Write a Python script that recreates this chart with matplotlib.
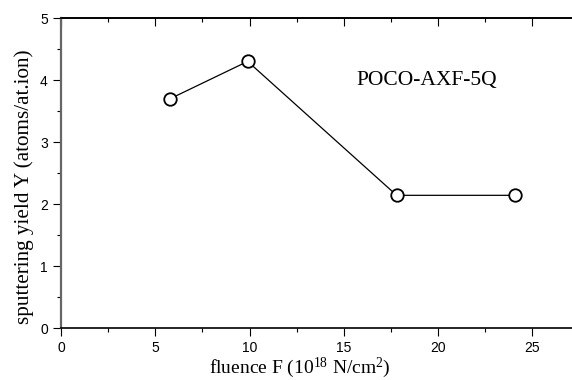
import matplotlib
matplotlib.use("Agg")
import matplotlib.pyplot as plt
from matplotlib.ticker import MultipleLocator

plt.rcParams["mathtext.fontset"] = "custom"
plt.rcParams["mathtext.rm"] = "Liberation Serif"
plt.rcParams["mathtext.it"] = "Liberation Serif:italic"

fluence = [5.8, 9.9, 17.8, 24.1]
yield_y = [3.7, 4.3, 2.14, 2.14]
x_ticks = [0, 5, 10, 15, 20, 25]
y_ticks = [0, 1, 2, 3, 4, 5]
label_text = "POCO-AXF-5Q"

fig = plt.figure(figsize=(5.72, 3.80), dpi=100)
ax = fig.add_axes([61 / 572, 52 / 380, 511 / 572, 310 / 380])

ax.plot(fluence, yield_y, color="black", lw=0.9, marker="o", ms=9,
        mfc="white", mec="black", mew=1.3, zorder=3, clip_on=False)

ax.set_xlim(0, 27.1)
ax.set_ylim(0, 5)
ax.set_xticks(x_ticks)
ax.set_yticks(y_ticks)
ax.xaxis.set_minor_locator(MultipleLocator(2.5))
ax.yaxis.set_minor_locator(MultipleLocator(0.5))
ax.tick_params(which="major", direction="out", length=5.5, width=0.8,
               labelsize=10, pad=4)
ax.tick_params(which="minor", direction="out", length=2.8, width=0.8)
for lab in ax.get_xticklabels() + ax.get_yticklabels():
    lab.set_family("Liberation Sans")

ax.spines["right"].set_visible(False)
ax.spines["left"].set_color("#666666")
ax.spines["left"].set_linewidth(1.6)
for s in ("top", "bottom"):
    ax.spines[s].set_linewidth(1.2)

sec = ax.secondary_xaxis("top")
sec.set_xticks(x_ticks)
sec.xaxis.set_minor_locator(MultipleLocator(2.5))
sec.tick_params(which="major", direction="in", length=5.5, width=0.8, labeltop=False)
sec.tick_params(which="minor", direction="in", length=2.8, width=0.8)
sec.spines["top"].set_linewidth(1.2)

ax.set_xlabel("fluence F (10$^{18}$ N/cm$^{2}$)", family="Liberation Serif",
              fontsize=14)
ax.xaxis.label.set_va("baseline")
ax.xaxis.set_label_coords((300 - 61) / 511, -(373 - 328) / 310)
ax.set_ylabel("sputtering yield Y (atoms/at.ion)", family="Liberation Serif",
              fontsize=15.2)
ax.yaxis.set_label_coords((34 - 61) / 511, (328 - 187) / 310)

ax.text(19.4, 4.0, label_text, family="Liberation Serif", fontsize=15.5,
        ha="center", va="center")

fig.savefig("out.png", dpi=100)
